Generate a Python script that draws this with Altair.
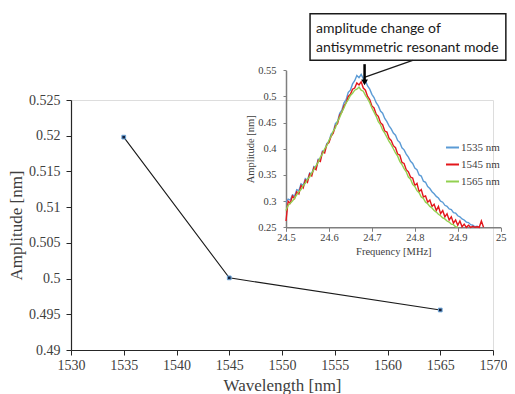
import altair as alt
import numpy as np
import pandas as pd

# ---------------- main chart data ----------------
wavelength = [1535, 1545, 1565]
amplitude = [0.5198, 0.5001, 0.4956]

# ---------------- inset data (sampled every 0.005 MHz from 24.5 MHz) ----------------
freq_start = 24.5
freq_step = 0.005

amp_1535 = [
    0.298, 0.304, 0.302, 0.312, 0.310, 0.322, 0.320, 0.333, 0.330, 0.343,
    0.340, 0.354, 0.352, 0.366, 0.364, 0.380, 0.380, 0.396, 0.396, 0.410,
    0.414, 0.428, 0.432, 0.448, 0.452, 0.468, 0.474, 0.488, 0.494, 0.508,
    0.512, 0.524, 0.530, 0.540, 0.536, 0.542, 0.534, 0.530, 0.520, 0.514,
    0.504, 0.498, 0.488, 0.482, 0.472, 0.468, 0.458, 0.452, 0.444, 0.438,
    0.430, 0.426, 0.416, 0.412, 0.402, 0.398, 0.390, 0.384, 0.376, 0.372,
    0.363, 0.360, 0.350, 0.348, 0.338, 0.336, 0.328, 0.324, 0.318, 0.314,
    0.309, 0.306, 0.300, 0.298, 0.292, 0.290, 0.285, 0.284, 0.278, 0.277,
    0.272, 0.270, 0.266, 0.264, 0.260, 0.259, 0.255, 0.254, 0.251, 0.252,
    0.250,
]
amp_1545 = [
    0.262, 0.300, 0.296, 0.310, 0.305, 0.318, 0.314, 0.330, 0.325, 0.340,
    0.336, 0.352, 0.348, 0.364, 0.360, 0.378, 0.376, 0.394, 0.392, 0.408,
    0.412, 0.424, 0.430, 0.444, 0.448, 0.464, 0.470, 0.482, 0.488, 0.500,
    0.504, 0.514, 0.516, 0.526, 0.522, 0.528, 0.516, 0.512, 0.500, 0.494,
    0.482, 0.478, 0.466, 0.462, 0.450, 0.446, 0.434, 0.432, 0.420, 0.416,
    0.406, 0.402, 0.390, 0.388, 0.374, 0.372, 0.360, 0.356, 0.346, 0.344,
    0.330, 0.334, 0.318, 0.322, 0.308, 0.310, 0.298, 0.302, 0.290, 0.294,
    0.282, 0.290, 0.276, 0.282, 0.270, 0.276, 0.264, 0.270, 0.258, 0.264,
    0.254, 0.262, 0.251, 0.256, 0.250, 0.254, 0.250, 0.252, 0.250, 0.251,
    0.250, 0.262, 0.250,
]
amp_1565 = [
    0.282, 0.292, 0.296, 0.300, 0.306, 0.312, 0.318, 0.322, 0.330, 0.334,
    0.342, 0.346, 0.354, 0.360, 0.368, 0.374, 0.384, 0.390, 0.400, 0.406,
    0.416, 0.424, 0.434, 0.440, 0.452, 0.460, 0.470, 0.478, 0.488, 0.494,
    0.502, 0.506, 0.512, 0.514, 0.518, 0.512, 0.510, 0.502, 0.496, 0.488,
    0.478, 0.470, 0.462, 0.452, 0.446, 0.436, 0.430, 0.422, 0.414, 0.408,
    0.400, 0.392, 0.386, 0.376, 0.370, 0.362, 0.356, 0.346, 0.342, 0.332,
    0.328, 0.320, 0.316, 0.308, 0.305, 0.298, 0.295, 0.290, 0.287, 0.282,
    0.279, 0.275, 0.272, 0.268, 0.266, 0.262, 0.260, 0.256, 0.255, 0.251,
    0.250,
]

series_names = ["1535 nm", "1545 nm", "1565 nm"]
series_colors = ["#5B9BD5", "#E3161B", "#92D050"]

# annotation (in inset data units)
note_lines = ["amplitude change of", "antisymmetric resonant mode"]
note_text_f = 24.570
note_text_a = [0.629, 0.593]
note_box = {"f": 24.556, "f2": 25.012, "a": 0.569, "a2": 0.658}
pointer = {"f": 24.795, "a": 0.569, "f2": 24.684, "a2": 0.537}
peak_arrow = {"f": 24.683, "a": 0.5617, "a2": 0.530, "head": 0.527}

# ---------------- build tables ----------------
main_df = pd.DataFrame({"wl": wavelength, "amp": amplitude})

rows = []
for name, vals in zip(series_names, [amp_1535, amp_1545, amp_1565]):
    for i, v in enumerate(vals):
        rows.append({"series": name, "f": round(freq_start + freq_step * i, 3), "a": v, "i": i})
inset_df = pd.DataFrame(rows)

SERIF = "Liberation Serif"
AX_COL = "#404040"

# ---------------- main layer ----------------
x_main = alt.X(
    "wl:Q",
    scale=alt.Scale(domain=[1530, 1570], nice=False, zero=False),
    axis=alt.Axis(
        title="Wavelength [nm]", values=list(range(1530, 1571, 5)), format="d",
        grid=False, domainColor="#262626", domainWidth=1.2, tickColor="#262626",
        tickSize=5, labelPadding=3, labelFont=SERIF, labelFontSize=14,
        labelColor=AX_COL, titleFont=SERIF, titleFontSize=17, titleFontWeight="normal",
        titleColor=AX_COL, titlePadding=5, labelFlush=False,
    ),
)
y_main = alt.Y(
    "amp:Q",
    scale=alt.Scale(domain=[0.49, 0.525], nice=False, zero=False),
    axis=alt.Axis(
        title="Amplitude [nm]", values=[round(0.49 + 0.005 * k, 3) for k in range(8)],
        format=".3~f", grid=False, domainColor="#262626", domainWidth=1.2,
        tickColor="#262626", tickSize=5, labelPadding=6, labelFont=SERIF,
        labelFontSize=14, labelColor=AX_COL, titleFont=SERIF, titleFontSize=17,
        titleFontWeight="normal", titleColor=AX_COL, titlePadding=3, labelFlush=False,
    ),
)

main_line = alt.Chart(main_df).mark_line(color="#1a1a1a", strokeWidth=1.1).encode(x=x_main, y=y_main)
main_pts = alt.Chart(main_df).mark_point(
    shape="square", filled=True, size=14, fill="#14213d", stroke="#6fa8dc",
    strokeWidth=1, opacity=1,
).encode(x=x_main, y=y_main)
main_layer = alt.layer(main_line, main_pts)

# ---------------- inset layer ----------------
inset_x_scale = alt.Scale(domain=[24.5, 25.0], range=[215, 429.7], nice=False, zero=False)
inset_y_scale = alt.Scale(domain=[0.25, 0.55], range=[127.3, -29.7], nice=False, zero=False)

inset_x_axis = alt.Axis(
    title="Frequency  [MHz]", orient="bottom", offset=-122.7,
    values=[24.5, 24.6, 24.7, 24.8, 24.9, 25.0], format=".1~f", grid=False,
    domainColor="#7f7f7f", domainWidth=1.5, tickColor="#7f7f7f", tickSize=4,
    labelPadding=1.5, labelFont=SERIF, labelFontSize=10.5, labelColor=AX_COL,
    titleFont=SERIF, titleFontSize=10.5, titleFontWeight="normal", titleColor=AX_COL,
    titlePadding=3, labelFlush=False,
)
inset_y_axis = alt.Axis(
    title="Amplitude [nm]", orient="left", offset=-215,
    values=[0.25, 0.3, 0.35, 0.4, 0.45, 0.5, 0.55], format=".2~f", grid=False,
    domainColor="#7f7f7f", domainWidth=1.5, tickColor="#7f7f7f", tickSize=3,
    labelPadding=7, labelFont=SERIF, labelFontSize=10.5, labelColor=AX_COL,
    titleFont=SERIF, titleFontSize=10.5, titleFontWeight="normal", titleColor=AX_COL,
    titlePadding=2, labelFlush=False,
)

def ix(field="f"):
    return alt.X(f"{field}:Q", scale=inset_x_scale, axis=inset_x_axis)

def iy(field="a"):
    return alt.Y(f"{field}:Q", scale=inset_y_scale, axis=inset_y_axis)

curves = alt.Chart(inset_df).mark_line(strokeWidth=1.4).encode(
    x=ix(), y=iy(), order="i:Q",
    color=alt.Color(
        "series:N",
        scale=alt.Scale(domain=series_names, range=series_colors),
        legend=alt.Legend(
            orient="none", legendX=374, legendY=40, title=None, symbolType="stroke",
            symbolStrokeWidth=2, symbolSize=169, labelFont=SERIF, labelFontSize=11,
            labelColor=AX_COL, rowPadding=4, labelOffset=1, padding=0,
        ),
    ),
)

box_df = pd.DataFrame([note_box])
box = alt.Chart(box_df).mark_rect(fill="white", stroke="#1a1a1a", strokeWidth=1.5).encode(
    x=ix("f"), x2="f2:Q", y=iy("a"), y2="a2:Q"
)

text_df = pd.DataFrame({"f": [note_text_f] * 2, "a": note_text_a, "t": note_lines})
note = alt.Chart(text_df).mark_text(
    align="left", baseline="middle", font="Lato", fontSize=14, color="#1a1a1a"
).encode(x=ix(), y=iy(), text="t:N")

ptr_df = pd.DataFrame([pointer])
ptr = alt.Chart(ptr_df).mark_rule(color="#1a1a1a", strokeWidth=1.2).encode(
    x=ix("f"), y=iy("a"), x2="f2:Q", y2="a2:Q"
)

arr_df = pd.DataFrame([{"f": peak_arrow["f"], "a": peak_arrow["a"], "a2": peak_arrow["a2"]}])
arr = alt.Chart(arr_df).mark_rule(color="#000000", strokeWidth=2.5).encode(
    x=ix("f"), y=iy("a"), y2="a2:Q"
)
head_df = pd.DataFrame([{"f": peak_arrow["f"], "a": peak_arrow["head"]}])
head = alt.Chart(head_df).mark_point(
    shape="triangle-down", filled=True, size=45, color="#000000", opacity=1
).encode(x=ix(), y=iy())

inset_layer = alt.layer(curves, box, note, ptr, arr, head)

chart = (
    alt.layer(main_layer, inset_layer)
    .resolve_scale(x="independent", y="independent", color="independent")
    .resolve_axis(x="independent", y="independent")
    .properties(
        width=422, height=250,
        autosize=alt.AutoSizeParams(type="none"),
        padding={"left": 63, "top": 92, "right": 14, "bottom": 44},
    )
    .configure_view(stroke=None)
    .configure(background="white")
)

chart.save("out.html", embed_options={"renderer": "svg", "actions": False})
